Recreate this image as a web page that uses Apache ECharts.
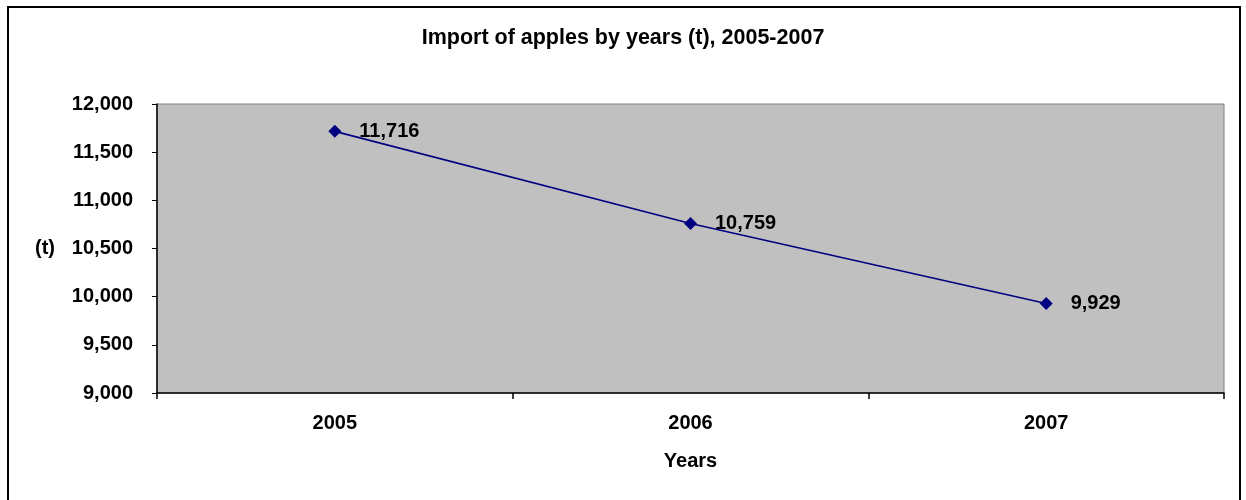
<!DOCTYPE html>
<html>
<head>
<meta charset="utf-8">
<script src="https://cdn.jsdelivr.net/npm/echarts@6/dist/echarts.min.js"></script>
<style>
  html, body { margin: 0; padding: 0; background: #fff; }
  #chart { width: 1246px; height: 500px; }
</style>
</head>
<body>
<div id="chart"></div>
<script>
const titleText = 'Import of apples by years (t), 2005-2007';
const categories = ['2005', '2006', '2007'];
const importValues = [11716, 10759, 9929];
const yTicks = { min: 9000, max: 12000, interval: 500 };
const xAxisName = 'Years';
const yAxisName = '(t)';

const FONT = '"Liberation Sans", Arial, sans-serif';
const fmt = v => Number(v).toLocaleString('en-US');

const chart = echarts.init(document.getElementById('chart'), null, { renderer: 'canvas' });
chart.setOption({
  animation: false,
  backgroundColor: '#ffffff',
  title: {
    text: titleText,
    left: 'center',
    top: 22,
    textStyle: { fontFamily: FONT, fontWeight: 'bold', fontSize: 21.5, color: '#000' }
  },
  graphic: [{
    type: 'rect',
    shape: { x: 8, y: 7, width: 1232, height: 520 },
    style: { fill: 'none', stroke: '#000', lineWidth: 2 },
    silent: true,
    z: 100
  }],
  grid: {
    left: 157, right: 22, top: 104, bottom: 107,
    show: true,
    backgroundColor: '#C0C0C0',
    borderColor: '#808080',
    borderWidth: 1
  },
  xAxis: {
    type: 'category',
    data: categories,
    boundaryGap: true,
    name: xAxisName,
    nameLocation: 'middle',
    nameGap: 58,
    nameTextStyle: { fontFamily: FONT, fontWeight: 'bold', fontSize: 20, color: '#000' },
    axisLine: { show: true, lineStyle: { color: '#000', width: 1.5 } },
    axisTick: { show: true, alignWithLabel: false, length: 6, lineStyle: { color: '#000', width: 1.5 } },
    axisLabel: { fontFamily: FONT, fontWeight: 'bold', fontSize: 20, color: '#000', margin: 20 },
    splitLine: { show: false }
  },
  yAxis: {
    type: 'value',
    min: yTicks.min,
    max: yTicks.max,
    interval: yTicks.interval,
    name: yAxisName,
    nameLocation: 'middle',
    nameRotate: 0,
    nameGap: 102,
    nameTextStyle: { fontFamily: FONT, fontWeight: 'bold', fontSize: 20, color: '#000' },
    axisLine: { show: true, lineStyle: { color: '#000', width: 1.5 } },
    axisTick: { show: true, length: 5, lineStyle: { color: '#000', width: 1 } },
    axisLabel: { fontFamily: FONT, fontWeight: 'bold', fontSize: 20, color: '#000', margin: 24, formatter: fmt },
    splitLine: { show: false }
  },
  series: [{
    type: 'line',
    data: importValues,
    symbol: 'diamond',
    symbolSize: 13,
    itemStyle: { color: '#000080' },
    lineStyle: { color: '#000080', width: 1.6 },
    label: {
      show: true,
      position: 'right',
      distance: 18,
      fontFamily: FONT,
      fontWeight: 'bold',
      fontSize: 20,
      color: '#000',
      formatter: p => fmt(p.value)
    }
  }]
});
</script>
</body>
</html>
